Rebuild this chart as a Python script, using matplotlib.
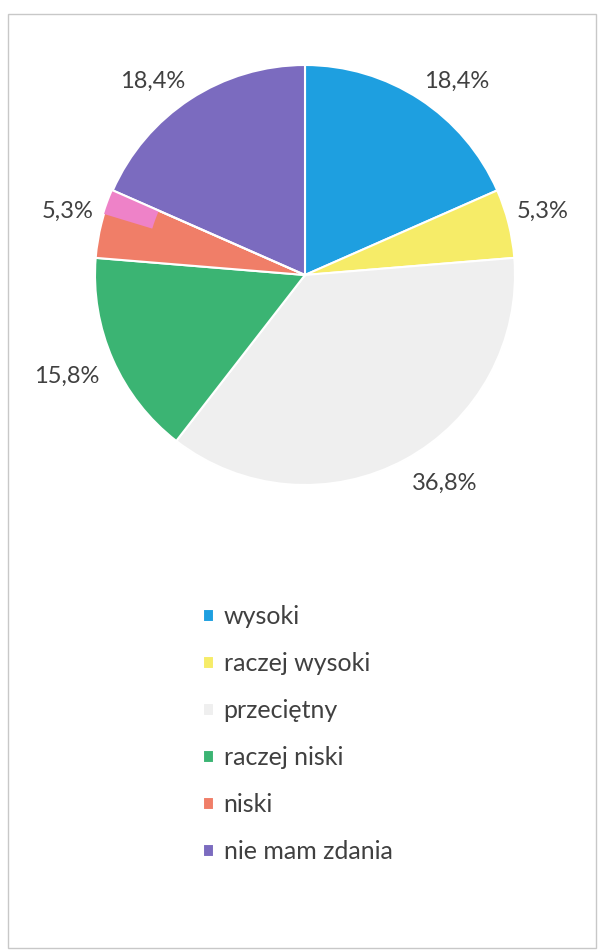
import numpy as np
import matplotlib.pyplot as plt
from matplotlib.patches import Wedge, Rectangle

plt.rcParams['font.family'] = ['Lato', 'DejaVu Sans']

# dane z wykresu
kategorie = ['wysoki', 'raczej wysoki', 'przeciętny', 'raczej niski', 'niski', 'nie mam zdania']
procenty = [18.4, 5.3, 36.8, 15.8, 5.3, 18.4]
etykiety = ['18,4%', '5,3%', '36,8%', '15,8%', '5,3%', '18,4%']
kolory = ['#1E9FE0', '#F6EC68', '#EFEFEF', '#3BB473', '#F07E68', '#7B6BBF']

W, H = 599, 950
cx, cy, R = 305, 275, 210  # srodek i promien kola w pikselach

fig = plt.figure(figsize=(W / 100, H / 100), dpi=100)
ax = fig.add_axes([0, 0, 1, 1])

# ramka wykresu
fig.patches.append(Rectangle((8 / W, 1 - 948 / H), 588 / W, 934 / H, transform=fig.transFigure,
                             fill=False, edgecolor='#C8C8C8', linewidth=1.0))

wedges, _ = ax.pie(procenty, colors=kolory, startangle=90, counterclock=False, radius=1,
                   wedgeprops=dict(edgecolor='white', linewidth=1.5))
ax.set_xlim(-cx / R, (W - cx) / R)
ax.set_ylim(-(H - cy) / R, cy / R)
ax.set_aspect('equal')
ax.axis('off')

# rozowy pasek w wycinku "niski" (tak jak na skanie), od strony "nie mam zdania"
w = wedges[4]
t1, t2 = w.theta1, w.theta2
ax.add_patch(Wedge((0, 0), 1, t1, t1 + 0.36 * (t2 - t1), width=0.24,
                   facecolor='#EE82C8', edgecolor='none', zorder=w.get_zorder() + 0.1))
ax.plot([0, np.cos(np.radians(t1))], [0, np.sin(np.radians(t1))], color='white', lw=1.5,
        zorder=w.get_zorder() + 0.2)

# etykiety procentowe poza wycinkami
for w, txt in zip(wedges, etykiety):
    kat = np.radians((w.theta1 + w.theta2) / 2)
    c, s = np.cos(kat), np.sin(kat)
    d = 1.04 if s > 0 else 1.07
    ha = 'left' if c > 0.1 else ('right' if c < -0.1 else 'center')
    va = 'bottom' if s > 0.1 else ('top' if s < -0.1 else 'center')
    ax.text(d * c, d * s, txt, ha=ha, va=va, fontsize=17, color='#404040')

leg = ax.legend(wedges, kategorie, loc='upper left', bbox_to_anchor=(203 / W, 1 - 605 / H),
                bbox_transform=fig.transFigure, frameon=False, fontsize=18, borderpad=0,
                borderaxespad=0, handlelength=0.42, handleheight=0.42, handletextpad=0.4,
                labelspacing=0.96)
for t in leg.get_texts():
    t.set_color('#404040')

fig.savefig('out.png', dpi=100)
